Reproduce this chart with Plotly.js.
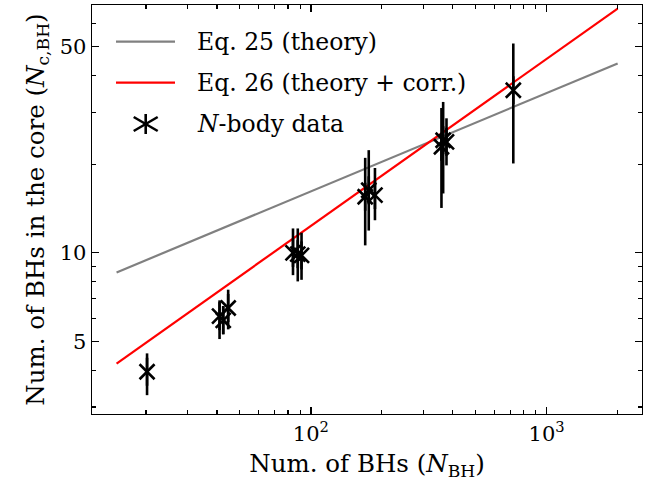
<!DOCTYPE html>
<html>
<head>
<meta charset="utf-8">
<script src="https://cdn.plot.ly/plotly-3.0.1.min.js"></script>
<style>
html,body{margin:0;padding:0;background:#fff;}
#chart{width:659px;height:492px;}
</style>
</head>
<body>
<div id="chart"></div>
<script>
// ---- data ----
var eq25X = [15, 2000];
var eq25Y = [8.58, 43.9];
var eq26X = [15, 2000];
var eq26Y = [4.21, 67.4];

var nbodyX  = [20.2, 41.0, 42.5, 44.6, 84.0, 88.0, 91.3, 170, 176, 187, 358, 364, 376, 722];
var nbodyY  = [3.95, 6.1, 5.9, 6.5, 10.0, 9.9, 9.8, 15.5, 16.3, 15.7, 22.9, 24.1, 23.8, 35.6];
var nbodyHi = [4.56, 6.9, 6.6, 7.5, 12.1, 12.1, 11.7, 21.0, 22.3, 19.4, 31.0, 32.5, 28.6, 51.3];
var nbodyLo = [3.29, 5.1, 5.3, 5.5, 8.4, 8.0, 8.1, 10.6, 11.9, 12.9, 14.2, 15.9, 19.8, 20.1];

var xMajorVals = [100, 1000];
var xMajorText = ['10<sup>2</sup>', '10<sup>3</sup>'];
var xMinorVals = [20, 30, 40, 50, 60, 70, 80, 90, 200, 300, 400, 500, 600, 700, 800, 900, 2000];
var yMajorVals = [5, 10, 50];
var yMajorText = ['5', '10', '50'];
var yMinorVals = [3, 4, 6, 7, 8, 9, 20, 30, 40, 60];

var legendLabels = ['Eq. 25 (theory)', 'Eq. 26 (theory + corr.)', '<i>N</i>-body data'];

// ---- build ----
var errPlus = nbodyY.map(function (v, i) { return nbodyHi[i] - v; });
var errMinus = nbodyY.map(function (v, i) { return v - nbodyLo[i]; });

var FONT = '"DejaVu Serif", "Liberation Serif", serif';

var traces = [
  {x: eq25X, y: eq25Y, mode: 'lines', line: {color: '#808080', width: 2.2}, hoverinfo: 'skip'},
  {x: eq26X, y: eq26Y, mode: 'lines', line: {color: '#ff0000', width: 2.2}, hoverinfo: 'skip'},
  {x: nbodyX, y: nbodyY, mode: 'markers',
   marker: {symbol: 'x-thin-open', size: 15, color: 'black', line: {color: 'black', width: 2.6}},
   error_y: {type: 'data', symmetric: false, array: errPlus, arrayminus: errMinus,
             width: 0, thickness: 2.6, color: 'black'}},
  {x: nbodyX, y: nbodyY, mode: 'markers',
   marker: {symbol: 'line-ns-open', size: 20, color: 'black', line: {color: 'black', width: 2.6}}}
];

// plot area in px: left 92, right 642, top 5, bottom 414
var L = 92, R = 642, T = 5, B = 414;
function px(x) { return (x - L) / (R - L); }
function py(y) { return (B - y) / (B - T); }

var shapes = [
  {type: 'line', xref: 'paper', yref: 'paper', x0: px(116), x1: px(175), y0: py(41.7), y1: py(41.7),
   line: {color: '#808080', width: 2.2}},
  {type: 'line', xref: 'paper', yref: 'paper', x0: px(116), x1: px(175), y0: py(82.7), y1: py(82.7),
   line: {color: '#ff0000', width: 2.2}}
];
// legend asterisk
var cx = 145.7, cy = 124;
var arms = [[0, 10], [12, 7], [12, -7]];
arms.forEach(function (a) {
  shapes.push({type: 'line', xref: 'paper', yref: 'paper',
    x0: px(cx - a[0]), x1: px(cx + a[0]), y0: py(cy - a[1]), y1: py(cy + a[1]),
    line: {color: 'black', width: 2.6}});
});

var legY = [41.7, 82.7, 124];
var annotations = legendLabels.map(function (t, i) {
  return {text: t, xref: 'paper', yref: 'paper', x: px(195), y: py(legY[i]),
          xanchor: 'left', yanchor: 'middle', showarrow: false,
          font: {family: FONT, size: 23.5, color: 'black'}};
});

var axisCommon = {
  type: 'log', showgrid: false, zeroline: false, showline: true, linecolor: 'black', linewidth: 1.4,
  mirror: 'ticks', ticks: 'inside', ticklen: 7, tickwidth: 1.3, tickcolor: 'black',
  tickfont: {family: FONT, size: 21, color: 'black'}, tickmode: 'array'
};

var layout = {
  width: 659, height: 492,
  margin: {l: L, r: 659 - R, t: T, b: 492 - B},
  paper_bgcolor: 'white', plot_bgcolor: 'white',
  showlegend: false,
  xaxis: Object.assign({}, axisCommon, {
    range: [Math.log10(11.8), Math.log10(2537)],
    tickvals: xMajorVals, ticktext: xMajorText,
    minor: {tickmode: 'array', tickvals: xMinorVals, ticks: 'inside', ticklen: 4, tickwidth: 1.1, tickcolor: 'black'},
    title: {text: 'Num. of BHs (<i>N</i><sub>BH</sub>)', font: {family: FONT, size: 24.5, color: 'black'}, standoff: 10}
  }),
  yaxis: Object.assign({}, axisCommon, {
    range: [Math.log10(2.84), Math.log10(69.3)],
    tickvals: yMajorVals, ticktext: yMajorText,
    minor: {tickmode: 'array', tickvals: yMinorVals, ticks: 'inside', ticklen: 4, tickwidth: 1.1, tickcolor: 'black'},
    title: {text: 'Num. of BHs in the core (<i>N</i><sub>c,BH</sub>)', font: {family: FONT, size: 24.5, color: 'black'}, standoff: 8}
  }),
  shapes: shapes,
  annotations: annotations
};

Plotly.newPlot('chart', traces, layout, {staticPlot: true, displayModeBar: false});
</script>
</body>
</html>
